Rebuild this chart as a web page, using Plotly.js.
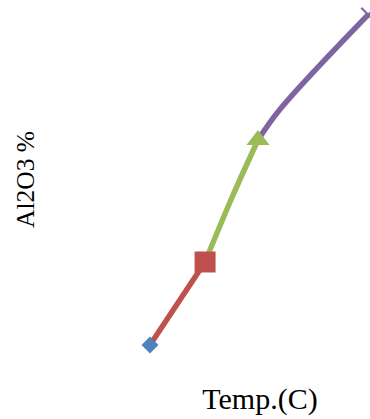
<!DOCTYPE html>
<html>
<head>
<meta charset="utf-8">
<script src="https://cdn.plot.ly/plotly-3.0.1.min.js"></script>
<style>
html, body { margin: 0; padding: 0; overflow: hidden; background: #fff; }
#chart { width: 460px; height: 419px; }
</style>
</head>
<body>
<div id="chart"></div>
<script>
// Temperature (C) and Al2O3 %
const blueTemp = [1450];
const blueAl2O3 = [10];
const redTemp = [1450, 1501];
const redAl2O3 = [10, 20];
const greenTemp = [1501, 1526, 1550];
const greenAl2O3 = [20, 27.8, 34.7];
const purpleTemp = [1550, 1570.4, 1652];
const purpleAl2O3 = [34.7, 38.4, 49.8];

const xTitle = 'Temp.(C)';
const yTitle = 'Al2O3 %';

const colors = { blue: '#4F81BD', red: '#C0504D', green: '#9BBB59', purple: '#8064A2' };
const lw = 5.5;

function last(a) { return [a[a.length - 1]]; }

const traces = [
  { x: redTemp, y: redAl2O3, mode: 'lines', line: { color: colors.red, width: lw, shape: 'spline', smoothing: 1 }, hoverinfo: 'skip' },
  { x: greenTemp, y: greenAl2O3, mode: 'lines', line: { color: colors.green, width: lw, shape: 'spline', smoothing: 1 }, hoverinfo: 'skip' },
  { x: purpleTemp, y: purpleAl2O3, mode: 'lines', line: { color: colors.purple, width: lw, shape: 'spline', smoothing: 1 }, hoverinfo: 'skip' },
  { x: blueTemp, y: blueAl2O3, mode: 'markers', marker: { symbol: 'diamond', size: 13, color: colors.blue } },
  { x: last(redTemp), y: last(redAl2O3), mode: 'markers', marker: { symbol: 'square', size: 21, color: colors.red } },
  { x: last(greenTemp), y: last(greenAl2O3), mode: 'markers', marker: { symbol: 'triangle-up', size: 20, color: colors.green } },
  { x: last(purpleTemp), y: last(purpleAl2O3), mode: 'markers', marker: { symbol: 'x-thin', size: 14, line: { color: colors.purple, width: 2 } } }
];

const axisCommon = { showgrid: false, zeroline: false, showline: false, ticks: '', showticklabels: false };

const layout = {
  width: 460,
  height: 419,
  margin: { l: 60, r: 0, t: 0, b: 60 },
  paper_bgcolor: '#fff',
  plot_bgcolor: '#fff',
  showlegend: false,
  font: { family: 'Liberation Serif, Times New Roman, serif', color: '#000' },
  xaxis: Object.assign({}, axisCommon, {
    range: [1366.7, 1737.0],
    title: { text: xTitle, font: { size: 30, family: 'Liberation Serif', color: '#000' }, standoff: 28 }
  }),
  yaxis: Object.assign({}, axisCommon, {
    range: [8.31, 51.57],
    title: { text: yTitle, font: { size: 25.5, family: 'Liberation Serif', color: '#000' }, standoff: 17 }
  })
};

Plotly.newPlot('chart', traces, layout, { displayModeBar: false, staticPlot: true });
</script>
</body>
</html>
